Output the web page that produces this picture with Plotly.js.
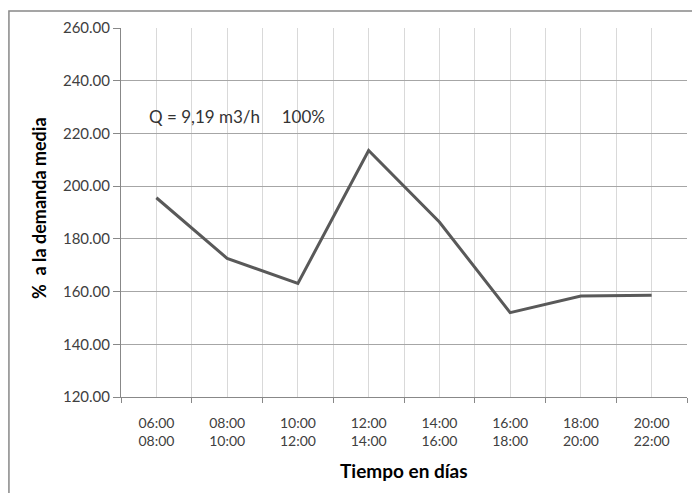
<!DOCTYPE html>
<html>
<head>
<meta charset="utf-8">
<script src="https://cdn.plot.ly/plotly-3.0.1.min.js"></script>
<style>html,body{margin:0;padding:0;background:#fff;}#chart{width:692px;height:493px;}</style>
</head>
<body>
<div id="chart"></div>
<script>
const categories = ["06:00<br>08:00","08:00<br>10:00","10:00<br>12:00","12:00<br>14:00","14:00<br>16:00","16:00<br>18:00","18:00<br>20:00","20:00<br>22:00"];
const demandPct = [195.6, 172.6, 163.1, 213.5, 186.4, 152.0, 158.3, 158.6];
const yTicks = [120,140,160,180,200,220,240,260];
const xTitle = 'Tiempo en días';
const yTitle = '%  a la demanda media';
const note = 'Q = 9,19 m3/h     100%';

const xIdx = categories.map((_, i) => i);
const boundaries = categories.map((_, i) => i - 0.5).concat([categories.length - 0.5]);

const trace = {
  x: xIdx, y: demandPct, type: 'scatter', mode: 'lines',
  line: {color: '#595959', width: 3}, hoverinfo: 'skip'
};

const fam = 'Lato, "Open Sans", sans-serif';

const layout = {
  width: 692, height: 493,
  margin: {l: 121, r: 5, t: 28, b: 96},
  paper_bgcolor: '#fff', plot_bgcolor: '#fff',
  showlegend: false,
  font: {family: fam, size: 14, color: '#404040'},
  xaxis: {
    range: [-0.5, categories.length - 0.5],
    tickvals: xIdx, ticktext: categories,
    ticks: '', showgrid: true, gridcolor: '#d9d9d9', gridwidth: 1,
    minor: {tickvals: boundaries, ticks: 'outside', ticklen: 5, tickcolor: '#888', showgrid: true, gridcolor: '#d9d9d9', gridwidth: 1},
    showline: true, linecolor: '#888', linewidth: 1,
    zeroline: false, ticklabelstandoff: 13,
    tickfont: {family: fam, size: 14, color: '#404040'}
  },
  yaxis: {
    range: [120, 260], tickvals: yTicks, tickformat: '.2f',
    ticks: 'outside', ticklen: 7, tickcolor: '#888',
    showgrid: true, gridcolor: '#a6a6a6', gridwidth: 1,
    showline: true, linecolor: '#888', linewidth: 1, zeroline: false,
    tickfont: {family: fam, size: 15, color: '#404040'}
  },
  annotations: [{
    x: -0.128, y: 226.5, xref: 'x', yref: 'y', xanchor: 'left', yanchor: 'middle',
    text: note, showarrow: false,
    font: {family: fam, size: 17, color: '#333'}
  }, {
    x: 0.5, y: -0.198, xref: 'paper', yref: 'paper', xanchor: 'center', yanchor: 'middle',
    text: xTitle, showarrow: false,
    font: {family: fam, size: 19, color: '#000', weight: 'bold'}
  }, {
    x: -0.145, y: 0.512, xref: 'paper', yref: 'paper', xanchor: 'center', yanchor: 'middle',
    text: yTitle, showarrow: false, textangle: -90,
    font: {family: fam, size: 18, color: '#000', weight: 'bold'}
  }],
  shapes: [{
    type: 'rect', xref: 'paper', yref: 'paper',
    x0: -0.198, x1: 1.05, y0: -0.35, y1: 1.046,
    line: {color: '#888', width: 1.5}, fillcolor: 'rgba(0,0,0,0)', layer: 'below'
  }]
};

Plotly.newPlot('chart', [trace], layout, {displayModeBar: false, staticPlot: true});
</script>
</body>
</html>
